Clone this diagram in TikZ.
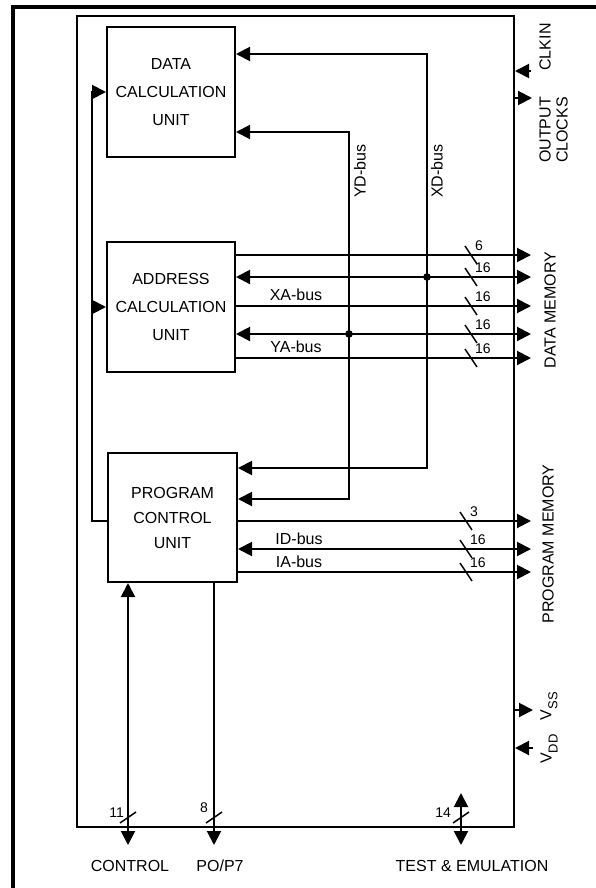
\documentclass[tikz,border=0pt]{standalone}
\usepackage{fontspec}
\setmainfont{Liberation Sans}
\usetikzlibrary{arrows.meta}

\begin{document}
\begin{tikzpicture}[x=1pt,y=-1pt,line width=2pt,>={Triangle[length=14pt,width=14pt]},
  every node/.style={font=\fontsize{16}{28}\selectfont,inner sep=0pt},
  unit/.style={draw,align=center,minimum width=128pt,minimum height=130pt},
  bitw/.style={line width=1.5pt},
  bitno/.style={font=\fontsize{14}{14}\selectfont}]
\useasboundingbox (0,0) rectangle (596,888);
% DSP core block diagram
\draw[line width=3.5pt] (13,888) -- (13,7) -- (596,7);
\node[draw,minimum width=437pt,minimum height=811pt] (chip) at (295.5,421.5) {};
\node[unit] (dcu) at (171,92) {DATA\\CALCULATION\\UNIT};
\node[unit] (acu) at (171,307) {ADDRESS\\CALCULATION\\UNIT};
\node[unit,minimum width=129pt,minimum height=129pt,font=\fontsize{16}{25}\selectfont] (pcu) at (172.5,517.5) {PROGRAM\\CONTROL\\UNIT};
% memory side ends
\foreach \n/\y in {d1/255,d2/277,d3/306,d4/334,d5/358,p1/521,p2/549,p3/572}
  \coordinate (\n) at (531,\y);
\draw[->] (acu.east |- d1) -- (d1);
\draw[<->] (acu.east |- d2) -- (d2);
\draw[->] (acu.east |- d3) -- (d3);
\draw[<->] (acu.east |- d4) -- (d4);
\draw[->] (acu.east |- d5) -- (d5);
\draw[->] (pcu.east |- p1) -- (p1);
\draw[<->] (pcu.east |- p2) -- (p2);
\draw[->] (pcu.east |- p3) -- (p3);
% XD and YD buses
\coordinate (xdt) at (427,54);
\coordinate (xdb) at (427,468);
\coordinate (xdj) at (427,277);
\coordinate (ydt) at (349,132);
\coordinate (ydb) at (349,499);
\coordinate (ydj) at (349,334);
\draw[<->] (dcu.east |- xdt) -- (xdt) -- (xdb) -- (pcu.east |- xdb);
\draw[<->] (dcu.east |- ydt) -- (ydt) -- (ydb) -- (pcu.east |- ydb);
\fill (xdj) circle (3.8pt);
\fill (ydj) circle (3.8pt);
\node[rotate=90] (xdlbl) at (437,171) {XD-bus};
\node[rotate=90] (ydlbl) at (360,171) {YD-bus};
\node (xalbl) at (296,295) {XA-bus};
\node (yalbl) at (296,347) {YA-bus};
\node (idlbl) at (299,539) {ID-bus};
\node (ialbl) at (299,562) {IA-bus};
% feedback from program control
\coordinate (fbt) at (92,92);
\coordinate (fbb) at (92,521);
\draw[->] (pcu.west |- fbb) -- (fbb) -- (fbt) -- (dcu.west);
\draw[->] (fbt |- acu.west) -- (acu.west);
% bus widths
\foreach \x/\y/\b in {471/255/6,471/277/16,471/306/16,471/334/16,471/358/16,466/521/3,466/549/16,466/572/16} {
  \draw[bitw] (\x-6,\y-9) -- (\x+6,\y+9);
  \node[bitno,anchor=south west] at (\x+3,\y-3) {\b};
}
% pins at the bottom
\coordinate (ctl) at (128,845);
\coordinate (pio) at (214,845);
\coordinate (tet) at (461,793);
\coordinate (teb) at (461,845);
\draw[<->] (pcu.south -| ctl) -- (ctl);
\draw[->] (pcu.south -| pio) -- (pio);
\draw[<->] (tet) -- (teb);
\foreach \x/\b/\lx/\ly in {128/11/125/818,214/8/209/814,461/14/452/818} {
  \draw[bitw] (\x-8,823) -- (\x+8,812);
  \node[bitno,anchor=south east] at (\lx,\ly) {\b};
}
\node[anchor=base] (ctllbl) at (130,871) {CONTROL};
\node[anchor=base] (piolbl) at (220,871) {PO/P7};
\node[anchor=base] (telbl) at (472,871) {TEST \& EMULATION};
% pins on the right
\coordinate (clk) at (531,71);
\coordinate (ock) at (532,98);
\coordinate (vss) at (533,710);
\coordinate (vdd) at (533,748);
\draw[->] (clk) -- (chip.east |- clk);
\draw[->] (chip.east |- ock) -- (ock);
\draw[->] (chip.east |- vss) -- (vss);
\draw[->] (vdd) -- (chip.east |- vdd);
\node[rotate=90] (clklbl) at (545,47) {CLKIN};
\node[rotate=90,align=center,font=\fontsize{16}{17}\selectfont] (ocklbl) at (553.5,130) {OUTPUT\\CLOCKS};
\node[rotate=90] (dmlbl) at (550,310) {DATA MEMORY};
\node[rotate=90] (pmlbl) at (548,544) {PROGRAM MEMORY};
\node[rotate=90] (vsslbl) at (549,706) {V\raisebox{-6pt}{\fontsize{13}{13}\selectfont SS}};
\node[rotate=90] (vddlbl) at (549,749) {V\raisebox{-6pt}{\fontsize{13}{13}\selectfont DD}};
\end{tikzpicture}
\end{document}
